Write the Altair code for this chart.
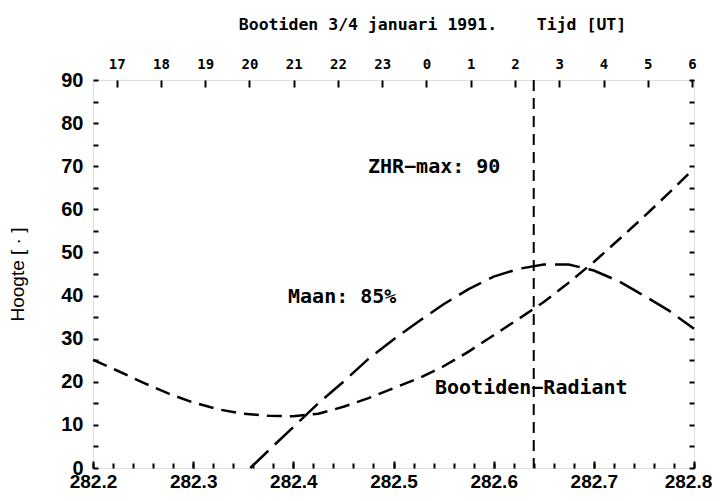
import altair as alt
import pandas as pd

# Solar longitude (deg) and altitude (deg) of the Bootid radiant
radiant_lon = [282.200, 282.225, 282.250, 282.275, 282.300, 282.325, 282.350, 282.375,
               282.400, 282.425, 282.450, 282.475, 282.500, 282.525, 282.550, 282.575,
               282.600, 282.625, 282.650, 282.675, 282.700, 282.725, 282.750, 282.775, 282.800]
radiant_alt = [25.1, 22.5, 19.8, 17.3, 15.2, 13.6, 12.6, 12.1,
               12.0, 12.6, 14.2, 16.2, 18.5, 20.8, 23.6, 27.0,
               30.8, 34.6, 38.5, 43.0, 47.8, 53.0, 58.3, 63.8, 69.5]

# Moon altitude
moon_lon = [282.357, 282.375, 282.400, 282.425, 282.450, 282.475, 282.500, 282.525,
            282.550, 282.575, 282.600, 282.625, 282.650, 282.675, 282.700, 282.725,
            282.750, 282.775, 282.800]
moon_alt = [0.0, 4.0, 9.5, 15.0, 20.0, 25.3, 29.8, 34.0,
            38.0, 41.5, 44.4, 46.2, 47.2, 47.2, 45.8, 43.3,
            40.0, 36.5, 32.3]

zhr_max_lon = [282.64]

# Top axis: time (UT)
hours_ut = [17, 18, 19, 20, 21, 22, 23, 0, 1, 2, 3, 4, 5, 6]
hours_domain = [16.464, 30.045]

# Annotations (data coordinates)
ann_text = ["ZHR\u2212max: 90", "Maan: 85%", "Bootiden\u2212Radiant"]
ann_lon = [282.4745, 282.3947, 282.5414]
ann_alt = [69.8, 39.7, 18.6]

title_text = "Bootiden 3/4 januari 1991.\u00a0\u00a0\u00a0\u00a0Tijd [UT]"

x_ticks_minor = [round(282.2 + 0.02 * i, 2) for i in range(31)]
x_ticks_major = [round(282.2 + 0.1 * i, 1) for i in range(7)]
y_ticks = list(range(0, 95, 5))

rad_df = pd.DataFrame({"lon": radiant_lon, "alt": radiant_alt})
moon_df = pd.DataFrame({"lon": moon_lon, "alt": moon_alt})
zhr_df = pd.DataFrame({"lon": zhr_max_lon})
hours_df = pd.DataFrame({"h": [h if h >= 12 else h + 24 for h in hours_ut]})
ann_df = pd.DataFrame({"t": ann_text, "lon": ann_lon, "alt": ann_alt})

xs = alt.Scale(domain=[282.2, 282.8], nice=False, zero=False)
ys = alt.Scale(domain=[0, 90], nice=False, zero=False)

MONO = "DejaVu Sans Mono"
SANS = "Liberation Sans"

bottom_axis = alt.Axis(
    orient="bottom", values=x_ticks_minor, tickSize=5, offset=-5, tickWidth=2,
    tickColor="black", domain=False, grid=False, title=None,
    labelExpr="abs(datum.value*10 - round(datum.value*10)) < 0.001 ? format(datum.value, '.1f') : ''",
    labelOverlap=False, labelFlush=False, labelPadding=4,
    labelOffset={"condition": {"test": "datum.value > 282.79", "value": -6}, "value": 0},
    labelFont=SANS, labelFontSize=19, labelFontWeight="bold", labelColor="black",
)
bottom_major = alt.Axis(
    orient="bottom", values=x_ticks_major, tickSize=7, offset=-7, tickWidth=2,
    tickColor="black", domain=False, grid=False, labels=False, title=None,
)
left_axis = alt.Axis(
    orient="left", values=y_ticks, tickSize=5, offset=-5, tickWidth=2,
    tickColor="black", domain=False, grid=False,
    labelExpr="datum.value % 10 == 0 ? datum.label : ''",
    labelOverlap=False, labelFlush=False, labelPadding=10,
    labelFont=SANS, labelFontSize=20, labelFontWeight="bold", labelColor="black",
    title="Hoogte [ \u00b7 ]", titleFont=SANS, titleFontSize=19, titleFontWeight="normal",
    titleColor="black", titlePadding=33,
)
right_axis = alt.Axis(
    orient="right", values=y_ticks, tickSize=5, offset=-5, tickWidth=2,
    tickColor="black", domain=False, grid=False, labels=False, title=None,
)
top_axis = alt.Axis(
    orient="top", values=hours_df["h"].tolist(), tickSize=7, offset=-7, tickWidth=2,
    tickColor="black", domain=False, grid=False, title=None,
    labelExpr="datum.value % 24", labelOverlap=False, labelFlush=False, labelPadding=9,
    labelFont=MONO, labelFontSize=14, labelFontWeight="bold", labelColor="black",
)

radiant = alt.Chart(rad_df).mark_line(
    color="black", strokeWidth=2.5, strokeDash=[15, 8]
).encode(
    x=alt.X("lon:Q", scale=xs, axis=bottom_axis),
    y=alt.Y("alt:Q", scale=ys, axis=left_axis),
)

moon = alt.Chart(moon_df).mark_line(
    color="black", strokeWidth=2.5, strokeDash=[25, 9]
).encode(
    x=alt.X("lon:Q", scale=xs, axis=bottom_major),
    y=alt.Y("alt:Q", scale=ys, axis=right_axis),
)

zhr_rule = alt.Chart(zhr_df).mark_rule(
    color="black", strokeWidth=2, strokeDash=[11, 7]
).encode(
    x=alt.X("lon:Q", scale=xs, axis=None),
)

top = alt.Chart(hours_df).mark_point(opacity=0).encode(
    x=alt.X("h:Q", scale=alt.Scale(domain=hours_domain, nice=False, zero=False), axis=top_axis),
)

texts = alt.Chart(ann_df).mark_text(
    align="left", baseline="middle", font=MONO, fontSize=20, fontWeight="bold", color="black"
).encode(
    x=alt.X("lon:Q", scale=xs, axis=None),
    y=alt.Y("alt:Q", scale=ys, axis=None),
    text="t:N",
)

chart = alt.layer(radiant, moon, zhr_rule, top, texts).resolve_scale(
    x="independent"
).resolve_axis(
    x="independent", y="independent"
).properties(
    width=601, height=388,
    title=alt.TitleParams(
        text=title_text, font=MONO, fontSize=16.5,
        fontWeight="bold", color="black", anchor="middle", dx=39, offset=24,
    ),
    autosize=alt.AutoSizeParams(type="none"),
    padding={"left": 85, "top": 72, "right": 18, "bottom": 25},
).configure_view(
    stroke="black", strokeWidth=2.5
).configure(background="white")

chart.save("out.html", embed_options={"renderer": "svg", "actions": False})
